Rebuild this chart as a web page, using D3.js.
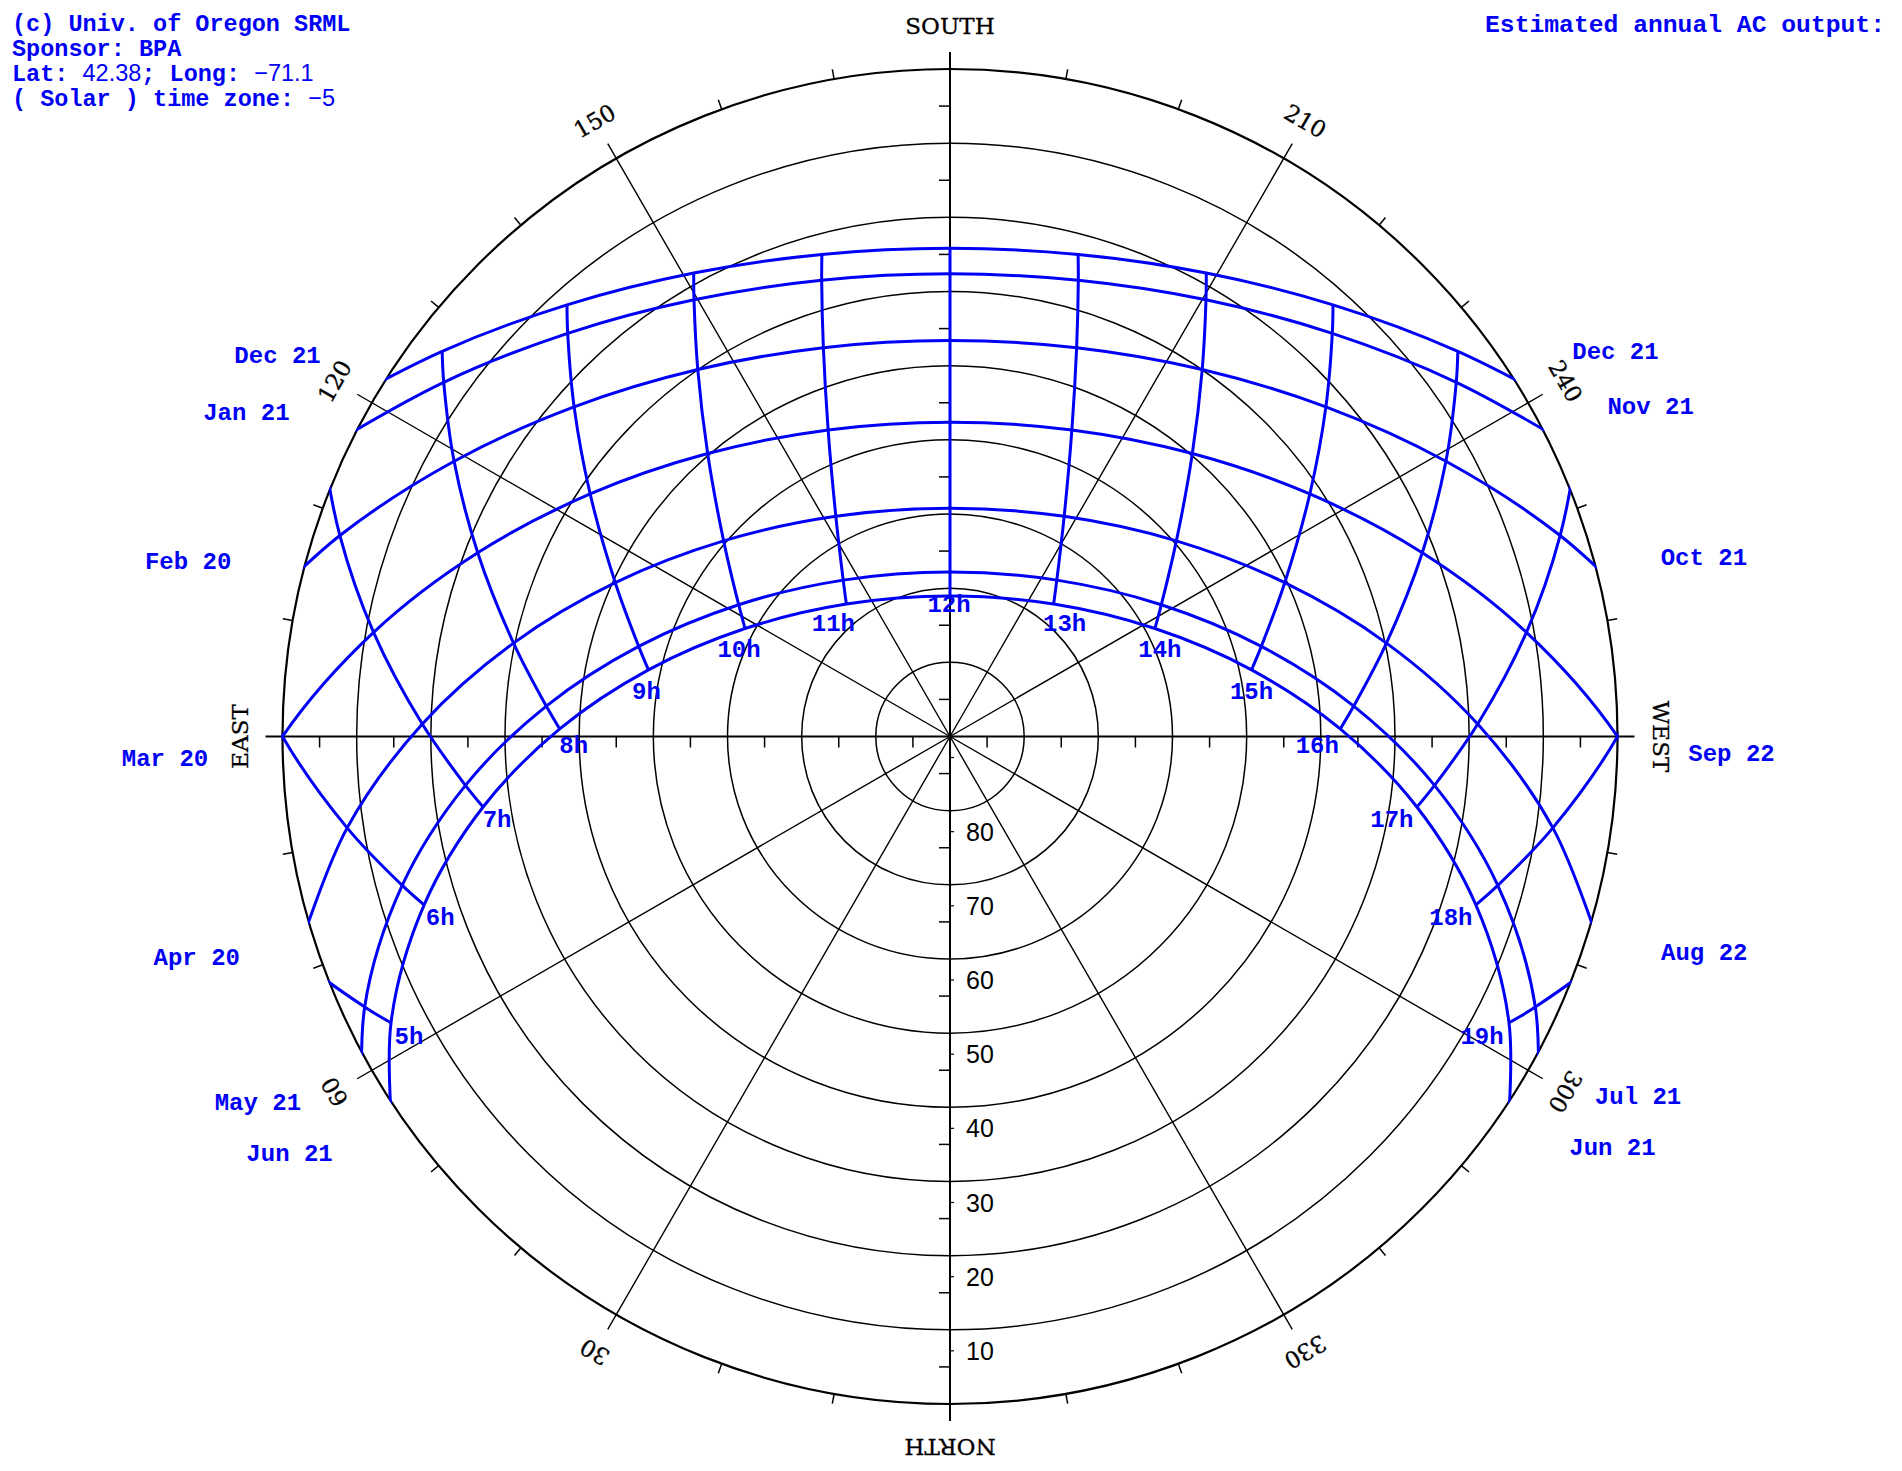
<!DOCTYPE html>
<html>
<head>
<meta charset="utf-8">
<script src="https://cdn.jsdelivr.net/npm/d3@7"></script>
<style>
  html, body { margin: 0; padding: 0; background: #fff; }
  svg { display: block; }
</style>
</head>
<body>
<script>
// ---------------- DATA ----------------
const hours = [4, 5, 6, 7, 8, 9, 10, 11, 12, 13, 14, 15, 16, 17, 18, 19, 20];
const hourLabels = ["4h","5h","6h","7h","8h","9h","10h","11h","12h","13h","14h","15h","16h","17h","18h","19h","20h"];

const dateLabelsLeft  = ["Dec 21", "Jan 21", "Feb 20", "Mar 20", "Apr 20", "May 21", "Jun 21"];
const dateLabelsRight = ["Dec 21", "Nov 21", "Oct 21", "Sep 22", "Aug 22", "Jul 21", "Jun 21"];

// sunrise / sunset azimuth (deg from north, clockwise) of each date curve
const riseAz = [122.58, 117.58, 104.97, 90.00, 74.20, 62.13, 57.42];
const setAz  = [237.42, 242.42, 255.03, 270.00, 285.80, 297.87, 302.58];

// sun altitude (deg) at each hour, per date curve (negative = just below the horizon, null = not plotted)
const altDec = [null, null, null, -5.32, 4.06, 12.19, 18.59, 22.74, 24.18, 22.74, 18.59, 12.19, 4.06, -5.32, null, null, null];
const altJan = [null, null, null, -2.92, 6.69, 15.09, 21.75, 26.10, 27.62, 26.10, 21.75, 15.09, 6.69, -2.92, null, null, null];
const altFeb = [null, null, -7.39, 3.39, 13.53, 22.59, 29.96, 34.87, 36.62, 34.87, 29.96, 22.59, 13.53, 3.39, -7.39, null, null];
const altMar = [null, -11.02, 0, 11.02, 21.67, 31.49, 39.77, 45.52, 47.62, 45.52, 39.77, 31.49, 21.67, 11.02, 0, -11.02, null];
const altApr = [null, -2.97, 7.79, 18.83, 29.82, 40.33, 49.66, 56.56, 59.22, 56.56, 49.66, 40.33, 29.82, 18.83, 7.79, -2.97, null];
const altMay = [-6.54, 3.06, 13.46, 24.34, 35.41, 46.30, 56.42, 64.47, 67.82, 64.47, 56.42, 46.30, 35.41, 24.34, 13.46, 3.06, -6.54];
const altJun = [-4.06, 5.32, 15.55, 26.33, 37.37, 48.36, 58.77, 67.33, 71.06, 67.33, 58.77, 48.36, 37.37, 26.33, 15.55, 5.32, -4.06];

// sun azimuth (deg) at each hour, per date curve
const azDec = [null, null, null, 117.12, 127.18, 138.42, 151.06, 165.12, 180, 194.88, 208.94, 221.58, 232.82, 242.88, null, null, null];
const azJan = [null, null, null, 114.65, 124.98, 136.52, 149.62, 164.29, 180, 195.71, 210.38, 223.48, 235.02, 245.35, null, null, null];
const azFeb = [null, null, 98.17, 108.23, 119.03, 131.25, 145.50, 161.96, 180, 198.04, 214.50, 228.75, 240.97, 251.77, 261.83, null, null];
const azMar = [null, 79.76, 90.00, 100.24, 111.26, 123.98, 139.42, 158.32, 180, 201.68, 220.58, 236.02, 248.74, 259.76, 270.00, 280.24, null];
const azApr = [null, 71.35, 81.38, 91.35, 102.08, 114.68, 130.83, 152.59, 180, 207.41, 229.17, 245.32, 257.92, 268.65, 278.62, 288.65, null];
const azMay = [54.89, 65.20, 74.79, 84.24, 94.31, 106.15, 121.95, 145.67, 180, 214.33, 238.05, 253.85, 265.69, 275.76, 285.21, 294.80, 305.11];
const azJun = [52.80, 62.88, 72.24, 81.41, 91.11, 102.46, 117.78, 141.95, 180, 218.05, 242.22, 257.54, 268.89, 278.59, 287.76, 297.12, 307.20];

const altCircles = [0, 10, 20, 30, 40, 50, 60, 70, 80];
const altTickValues = [5, 15, 25, 35, 45, 55, 65, 75, 85];
const altTickLabels = [80, 70, 60, 50, 40, 30, 20, 10];
const spokeAz = [0, 30, 60, 90, 120, 150, 180, 210, 240, 270, 300, 330];
const spokeLabels = ["NORTH", "30", "60", "EAST", "120", "150", "SOUTH", "210", "240", "WEST", "300", "330"];

// info lines: pieces of [text, isNumber]
const infoLines = [
  [["(c) Univ. of Oregon SRML", false]],
  [["Sponsor: BPA", false]],
  [["Lat: ", false], ["42.38", true], ["; Long: ", false], ["\u221271.1", true]],
  [["( Solar ) time zone: ", false], ["\u22125", true]]
];
const outputTitle = "Estimated annual AC output:";

// ---------------- LAYOUT ----------------
const W = 1902, H = 1471;
const cx = 950, cy = 736.5, R = 667.5;
const BLUE = "#0000f5";
const monoFont = "'Liberation Mono', 'Courier New', monospace";
const sansFont = "'Liberation Sans', Arial, sans-serif";
const serifFont = "'DejaVu Serif', serif";

// label offsets (px) relative to their anchor points
const hourLabelDx = [0, 18, 16, 14, 14, -2, -6, -13, -1, 11, 5, 0, -23, -25, -25, -27, 0];
const hourLabelDy = [0, 15, 14, 13, 18, 23, 22, 20, 9, 20, 22, 23, 18, 13, 14, 15, 0];
const leftLabelDx = [-110, -112, -117, -117.5, -111, -102, -98];
const leftLabelDy = [-20.5, -14, -1.5, 22.5, 40, 55, 59];
const rightLabelDx = [103, 109, 109, 114, 112, 98, 100];
const rightLabelDy = [-25, -20, -6, 17.5, 35, 48.5, 53];

const altByDate = [altDec, altJan, altFeb, altMar, altApr, altMay, altJun];
const azByDate = [azDec, azJan, azFeb, azMar, azApr, azMay, azJun];

const rScale = d3.scaleLinear().domain([90, 0]).range([0, R]);
const ang = az => (az + 180) * Math.PI / 180;     // south at top, east on the left
const pt = (alt, az) => d3.pointRadial(ang(az), rScale(alt));

const svg = d3.select("body").append("svg").attr("width", W).attr("height", H);
svg.append("rect").attr("width", W).attr("height", H).attr("fill", "#fff");
svg.append("defs").append("clipPath").attr("id", "horizon")
  .append("circle").attr("cx", 0).attr("cy", 0).attr("r", R + 1);
const g = svg.append("g").attr("transform", `translate(${cx},${cy})`);

// altitude circles
g.selectAll("circle.alt").data(altCircles).join("circle")
  .attr("r", d => rScale(d)).attr("fill", "none").attr("stroke", "#000")
  .attr("stroke-width", d => d === 0 ? 2.2 : 1.5);

// spokes
g.selectAll("line.spoke").data(spokeAz).join("line")
  .attr("x1", 0).attr("y1", 0)
  .attr("x2", d => d3.pointRadial(ang(d), R + 17)[0])
  .attr("y2", d => d3.pointRadial(ang(d), R + 17)[1])
  .attr("stroke", "#000").attr("stroke-width", d => d % 90 === 0 ? 2 : 1.4);

// azimuth ticks on the outer circle
const azTicks = d3.range(10, 360, 10).filter(a => a % 30 !== 0);
g.selectAll("line.aztick").data(azTicks).join("line")
  .attr("x1", d => d3.pointRadial(ang(d), R)[0]).attr("y1", d => d3.pointRadial(ang(d), R)[1])
  .attr("x2", d => d3.pointRadial(ang(d), R + 10)[0]).attr("y2", d => d3.pointRadial(ang(d), R + 10)[1])
  .attr("stroke", "#000").attr("stroke-width", 1.5);

// altitude ticks along the axes
altTickValues.forEach(a => {
  const r = rScale(a);
  [-r, r].forEach(y => g.append("line").attr("x1", -11).attr("x2", 0).attr("y1", y).attr("y2", y)
    .attr("stroke", "#000").attr("stroke-width", 1.5));
  [-r, r].forEach(x => g.append("line").attr("x1", x).attr("x2", x).attr("y1", 0).attr("y2", 11)
    .attr("stroke", "#000").attr("stroke-width", 1.5));
});
[90].concat(altTickLabels).forEach(a => {
  const y = rScale(a) + 21;
  g.append("line").attr("x1", 0).attr("x2", 4).attr("y1", y).attr("y2", y)
    .attr("stroke", "#000").attr("stroke-width", 1.2);
});

// altitude labels
g.selectAll("text.altlab").data(altTickLabels).join("text")
  .attr("x", 16).attr("y", d => rScale(d) + 21)
  .attr("dominant-baseline", "central")
  .attr("font-family", sansFont).attr("font-size", 25)
  .attr("fill", "#000").text(d => d);

// spoke labels
g.selectAll("text.spokelab").data(spokeAz).join("text")
  .attr("transform", d => {
    const p = d3.pointRadial(ang(d), R + 43);
    return `translate(${p[0]},${p[1]}) rotate(${d - 180})`;
  })
  .attr("text-anchor", "middle").attr("dominant-baseline", "central")
  .attr("font-family", serifFont).attr("font-size", 23).attr("fill", "#000")
  .attr("stroke", "#000").attr("stroke-width", 0.3)
  .text((d, i) => spokeLabels[i]);

// ---------------- SUN PATHS ----------------
const line = d3.lineRadial()
  .angle(d => ang(d.az)).radius(d => rScale(d.alt))
  .curve(d3.curveCatmullRom.alpha(0.5));
const paths = g.append("g").attr("clip-path", "url(#horizon)");

// date curves
altByDate.forEach((alts, i) => {
  const pts = [];
  hours.forEach((h, j) => { if (alts[j] !== null) pts.push({ alt: alts[j], az: azByDate[i][j] }); });
  paths.append("path").attr("d", line(pts)).attr("fill", "none")
    .attr("stroke", BLUE).attr("stroke-width", 3);
});

// hour lines
hours.forEach((h, j) => {
  const pts = [];
  altByDate.forEach((alts, i) => { if (alts[j] !== null) pts.push({ alt: alts[j], az: azByDate[i][j] }); });
  if (pts.some(p => p.alt > 0)) {
    paths.append("path").attr("d", line(pts)).attr("fill", "none")
      .attr("stroke", BLUE).attr("stroke-width", 3);
  }
});

// hour labels (next to the June 21 end of each hour line)
hours.forEach((h, j) => {
  if (!(altJun[j] > 0)) return;
  const p = pt(altJun[j], azJun[j]);
  g.append("text").attr("x", p[0] + hourLabelDx[j]).attr("y", p[1] + hourLabelDy[j])
    .attr("text-anchor", "middle").attr("dominant-baseline", "central")
    .attr("font-family", monoFont).attr("font-weight", "bold").attr("font-size", 24)
    .attr("fill", BLUE).text(hourLabels[j]);
});

// date labels
dateLabelsLeft.forEach((t, i) => {
  const p = pt(0, riseAz[i]);
  g.append("text").attr("x", p[0] + leftLabelDx[i]).attr("y", p[1] + leftLabelDy[i])
    .attr("text-anchor", "middle").attr("dominant-baseline", "central")
    .attr("font-family", monoFont).attr("font-weight", "bold").attr("font-size", 24)
    .attr("fill", BLUE).text(t);
});
dateLabelsRight.forEach((t, i) => {
  const p = pt(0, setAz[i]);
  g.append("text").attr("x", p[0] + rightLabelDx[i]).attr("y", p[1] + rightLabelDy[i])
    .attr("text-anchor", "middle").attr("dominant-baseline", "central")
    .attr("font-family", monoFont).attr("font-weight", "bold").attr("font-size", 24)
    .attr("fill", BLUE).text(t);
});

// ---------------- CORNER TEXT ----------------
infoLines.forEach((pieces, i) => {
  const t = svg.append("text").attr("x", 12).attr("y", 31 + i * 25)
    .attr("font-size", 23.5).attr("fill", BLUE);
  pieces.forEach(([s, isNum]) => {
    t.append("tspan")
      .attr("font-family", isNum ? sansFont : monoFont)
      .attr("font-weight", isNum ? "normal" : "bold")
      .text(s);
  });
});
svg.append("text").attr("x", 1485).attr("y", 32)
  .attr("textLength", 400).attr("lengthAdjust", "spacingAndGlyphs")
  .attr("font-family", monoFont).attr("font-weight", "bold").attr("font-size", 24)
  .attr("fill", BLUE).text(outputTitle);
</script>
</body>
</html>
